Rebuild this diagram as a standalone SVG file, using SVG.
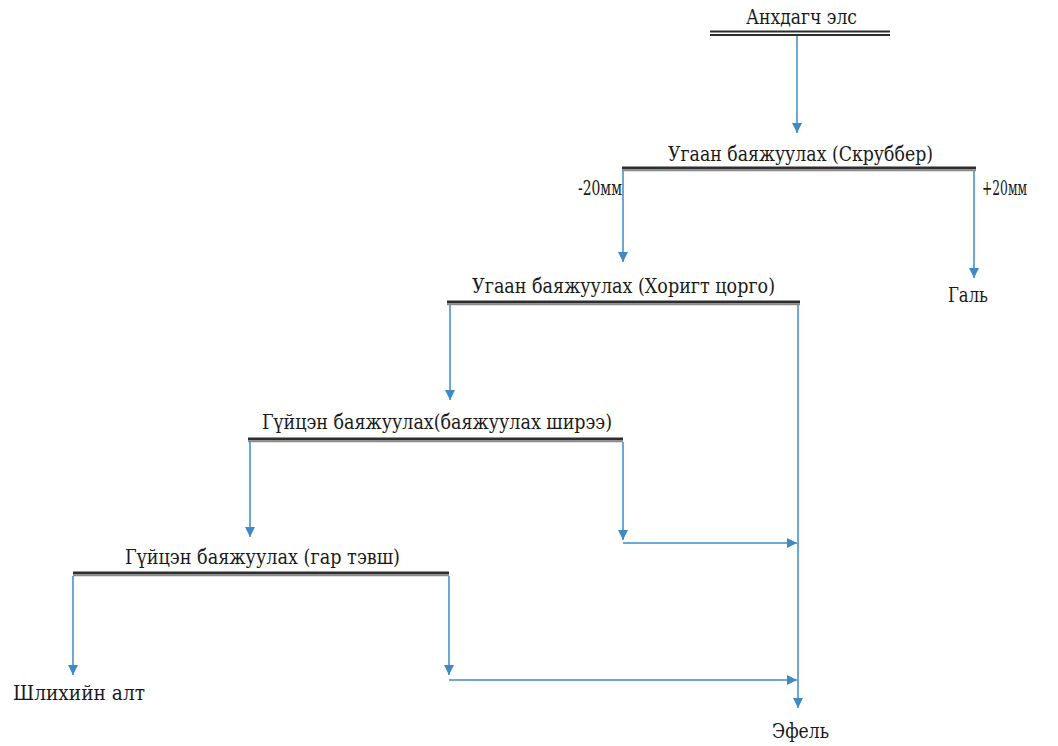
<svg xmlns="http://www.w3.org/2000/svg" width="1058" height="746" viewBox="0 0 1058 746">
<defs>
<marker id="ah" viewBox="0 0 10 10" refX="10" refY="5" markerWidth="10" markerHeight="10" markerUnits="userSpaceOnUse" orient="auto">
<path d="M0,0 L10,5 L0,10 z" fill="#3f8ac4"/>
</marker>
<style>
text{font-family:"DejaVu Serif Condensed","DejaVu Serif","Liberation Serif",serif;font-size:21px;fill:#1a1a1a}
.bar{stroke:#2e2e2e;stroke-width:3;fill:none}
.bar2{stroke:#8a8a8a;stroke-width:1.5;fill:none}
.c{stroke:#3f8ac4;stroke-width:1.5;fill:none}
.a{marker-end:url(#ah)}
</style>
</defs>
<rect width="1058" height="746" fill="#ffffff"/>
<g id="connectors">
<line class="c a" x1="797" y1="36" x2="797" y2="133"/>
<line class="c a" x1="623" y1="170" x2="623" y2="262"/>
<line class="c a" x1="974" y1="170" x2="974" y2="278"/>
<line class="c a" x1="450" y1="305" x2="450" y2="400"/>
<line class="c a" x1="798" y1="305" x2="798" y2="708"/>
<line class="c a" x1="250" y1="442" x2="250" y2="537"/>
<line class="c a" x1="623" y1="442" x2="623" y2="540"/>
<line class="c a" x1="623" y1="543" x2="797" y2="543"/>
<line class="c a" x1="73" y1="576" x2="73" y2="675"/>
<line class="c a" x1="449" y1="576" x2="449" y2="675"/>
<line class="c a" x1="449" y1="680" x2="797" y2="680"/>
</g>
<g id="n-anhdagch">
<text x="746" y="24" textLength="111" lengthAdjust="spacingAndGlyphs">Анхдагч элс</text>
<line class="bar" x1="710" y1="31.5" x2="890" y2="31.5" style="stroke-width:2"/>
<line class="bar" x1="710" y1="35" x2="890" y2="35" style="stroke-width:2"/>
</g>
<g id="n-scrubber">
<text x="668" y="161" textLength="265" lengthAdjust="spacingAndGlyphs">Угаан баяжуулах (Скруббер)</text>
<line class="bar" x1="622" y1="168" x2="976" y2="168"/>
<line class="bar2" x1="622" y1="170.5" x2="976" y2="170.5"/>
</g>
<g id="n-minus20">
<text x="578" y="195" textLength="44" lengthAdjust="spacingAndGlyphs">-20мм</text>
</g>
<g id="n-plus20">
<text x="982" y="195" textLength="45" lengthAdjust="spacingAndGlyphs">+20мм</text>
</g>
<g id="n-gal">
<text x="948" y="302" textLength="40" lengthAdjust="spacingAndGlyphs">Галь</text>
</g>
<g id="n-horigt">
<text x="472" y="293" textLength="303" lengthAdjust="spacingAndGlyphs">Угаан баяжуулах (Хоригт цорго)</text>
<line class="bar" x1="447" y1="302" x2="800" y2="302"/>
<line class="bar2" x1="447" y1="304.5" x2="800" y2="304.5"/>
</g>
<g id="n-shiree">
<text x="262" y="429" textLength="350" lengthAdjust="spacingAndGlyphs">Гүйцэн баяжуулах(баяжуулах ширээ)</text>
<line class="bar" x1="248" y1="439" x2="623" y2="439"/>
<line class="bar2" x1="248" y1="441.5" x2="623" y2="441.5"/>
</g>
<g id="n-gartevsh">
<text x="125" y="564" textLength="275" lengthAdjust="spacingAndGlyphs">Гүйцэн баяжуулах (гар тэвш)</text>
<line class="bar" x1="73" y1="573" x2="449" y2="573"/>
<line class="bar2" x1="73" y1="575.5" x2="449" y2="575.5"/>
</g>
<g id="n-shlih">
<text x="13" y="700" textLength="132" lengthAdjust="spacingAndGlyphs">Шлихийн алт</text>
</g>
<g id="n-efel">
<text x="772" y="738" textLength="57" lengthAdjust="spacingAndGlyphs">Эфель</text>
</g>
</svg>
